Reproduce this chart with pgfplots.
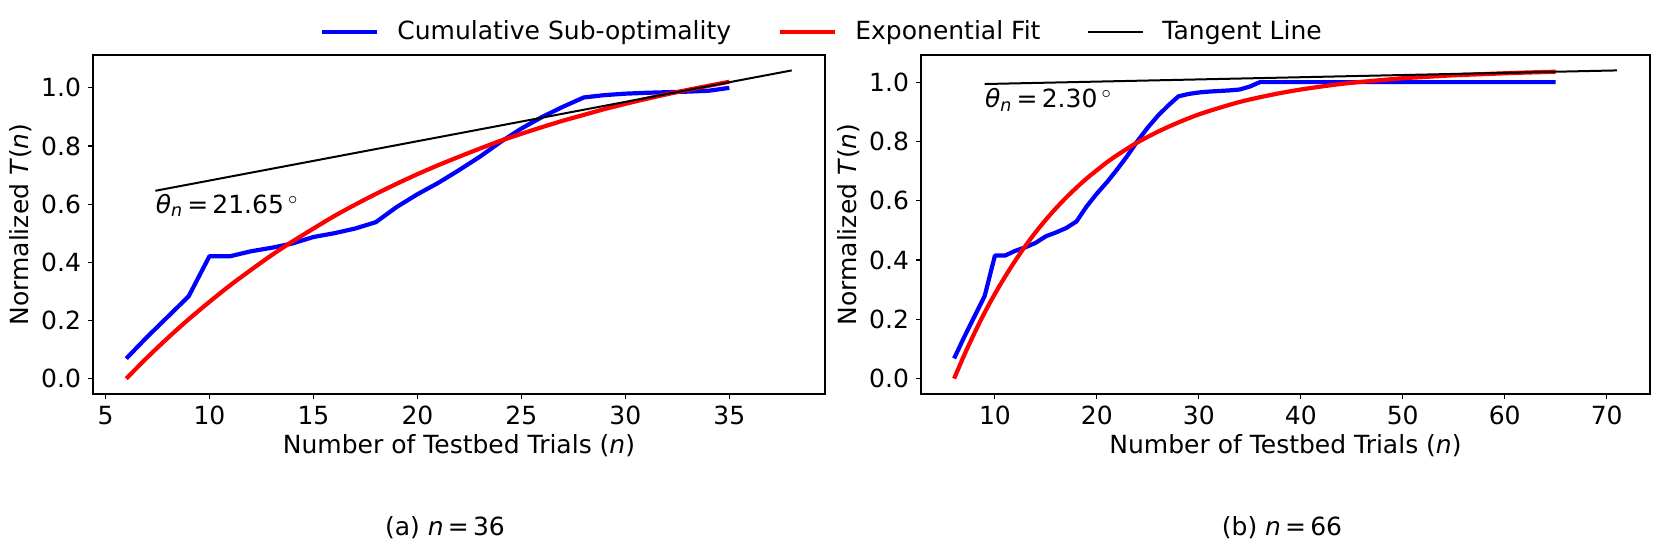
\documentclass[border=0pt]{standalone}
\usepackage{fontspec}
\setmainfont{DejaVu Sans}
\usepackage{pgfplots}
\pgfplotsset{compat=1.18}

\pgfplotstableread{
n y
6 0.069
7 0.143
8 0.213
9 0.283
10 0.421
11 0.421
12 0.438
13 0.450
14 0.465
15 0.487
16 0.500
17 0.516
18 0.538
19 0.590
20 0.634
21 0.673
22 0.717
23 0.763
24 0.814
25 0.860
26 0.900
27 0.935
28 0.967
29 0.975
30 0.980
31 0.983
32 0.985
33 0.987
34 0.990
35 1.000
}\blueA

\pgfplotstableread{
n y
6 0.000
7 0.072
8 0.140
9 0.204
10 0.264
11 0.321
12 0.374
13 0.425
14 0.472
15 0.516
16 0.559
17 0.598
18 0.635
19 0.670
20 0.703
21 0.734
22 0.763
23 0.791
24 0.818
25 0.842
26 0.865
27 0.887
28 0.907
29 0.927
30 0.945
31 0.962
32 0.978
33 0.993
34 1.007
35 1.021
}\redA

\pgfplotstableread{
n y
7.4 0.646
38 1.060
}\tanA

\pgfplotstableread{
n y
6 0.068
7 0.141
8 0.210
9 0.279
10 0.415
11 0.415
12 0.431
13 0.443
14 0.458
15 0.480
16 0.493
17 0.508
18 0.530
19 0.581
20 0.624
21 0.663
22 0.706
23 0.752
24 0.802
25 0.847
26 0.887
27 0.921
28 0.952
29 0.960
30 0.965
31 0.968
32 0.970
33 0.972
34 0.975
35 0.985
36 1.000
40 1.000
50 1.000
60 1.000
65 1.000
}\blueB

\pgfplotstableread{
n y
6 0.000
7 0.080
8 0.154
9 0.223
10 0.286
11 0.344
12 0.398
13 0.448
14 0.494
15 0.536
16 0.575
17 0.611
18 0.644
19 0.675
20 0.703
21 0.730
22 0.754
23 0.776
24 0.797
26 0.833
28 0.864
30 0.891
32 0.913
34 0.933
36 0.949
38 0.963
40 0.975
42 0.985
44 0.994
46 1.001
48 1.007
50 1.013
52 1.017
55 1.023
58 1.027
61 1.031
65 1.035
}\redB

\pgfplotstableread{
n y
9 0.9935
71 1.0394
}\tanB

\pgfplotsset{
  myaxis/.style={
    scale only axis,
    anchor=south west,
    height=169.5pt,
    font=\fontsize{12.5}{15}\selectfont,
    /pgf/number format/assume math mode=true,
    axis line style={line width=0.55pt},
    every tick/.style={black, line width=0.55pt},
    major tick length=2.5pt,
    tick align=outside,
    tick pos=left,
    ytick={0,0.2,0.4,0.6,0.8,1.0},
    yticklabel style={/pgf/number format/fixed,/pgf/number format/precision=1,/pgf/number format/fixed zerofill},
    scaled y ticks=false,
    xlabel={Number of Testbed Trials (\textit{n})},
    ylabel={Normalized \textit{T}(\textit{n})},
    xlabel style={yshift=2pt},
    ylabel style={yshift=-2pt},
    legend image code/.code={\draw[#1] (0pt,0pt) -- (27.5pt,0pt);},
  },
  blueline/.style={color={rgb,255:red,0;green,0;blue,255}, line width=2.1pt, line join=round},
  redline/.style={color={rgb,255:red,255;green,0;blue,0}, line width=2.1pt, line join=round, smooth},
  tanline/.style={black, line width=1pt},
}

\begin{document}
\begin{tikzpicture}
\useasboundingbox (0,0) rectangle (830.5pt,276.5pt);
\begin{axis}[myaxis,
  at={(46.5pt,79.5pt)}, width=366pt,
  xmin=4.4, xmax=39.6, ymin=-0.053, ymax=1.113,
  xtick={5,10,15,20,25,30,35},
  legend columns=3,
  legend style={at={(axis description cs:0.9945,1.068)}, anchor=center,
    draw=none, fill=none, font=\fontsize{12.5}{15}\selectfont,
    column sep=0pt, nodes={inner sep=0pt},
    /tikz/every odd column/.append style={column sep=9pt},
    /tikz/every even column/.append style={column sep=23.5pt}},
]
\addplot[blueline] table[x=n,y=y] {\blueA};
\addlegendentry{Cumulative Sub-optimality}
\addplot[redline] table[x=n,y=y] {\redA};
\addlegendentry{Exponential Fit}
\addplot[tanline] table[x=n,y=y] {\tanA};
\addlegendentry{Tangent Line}
\node[anchor=north west, inner sep=0pt] at (axis cs:7.4,0.636) {{\itshape θ}\textsubscript{\itshape n}\,=\,21.65\,$^\circ$};
\end{axis}
\begin{axis}[myaxis,
  at={(460.5pt,79.5pt)}, width=364.5pt,
  xmin=2.75, xmax=74.25, ymin=-0.052, ymax=1.0914,
  xtick={10,20,30,40,50,60,70},
]
\addplot[blueline] table[x=n,y=y] {\blueB};
\addplot[redline] table[x=n,y=y] {\redB};
\addplot[tanline] table[x=n,y=y] {\tanB};
\node[anchor=north west, inner sep=0pt] at (axis cs:9,0.98) {{\itshape θ}\textsubscript{\itshape n}\,=\,2.30\,$^\circ$};
\end{axis}
\node[font=\fontsize{12.5}{15}\selectfont] at (222.5pt,12.5pt) {(a) \textit{n}\,=\,36};
\node[font=\fontsize{12.5}{15}\selectfont] at (641pt,12.5pt) {(b) \textit{n}\,=\,66};
\end{tikzpicture}
\end{document}
